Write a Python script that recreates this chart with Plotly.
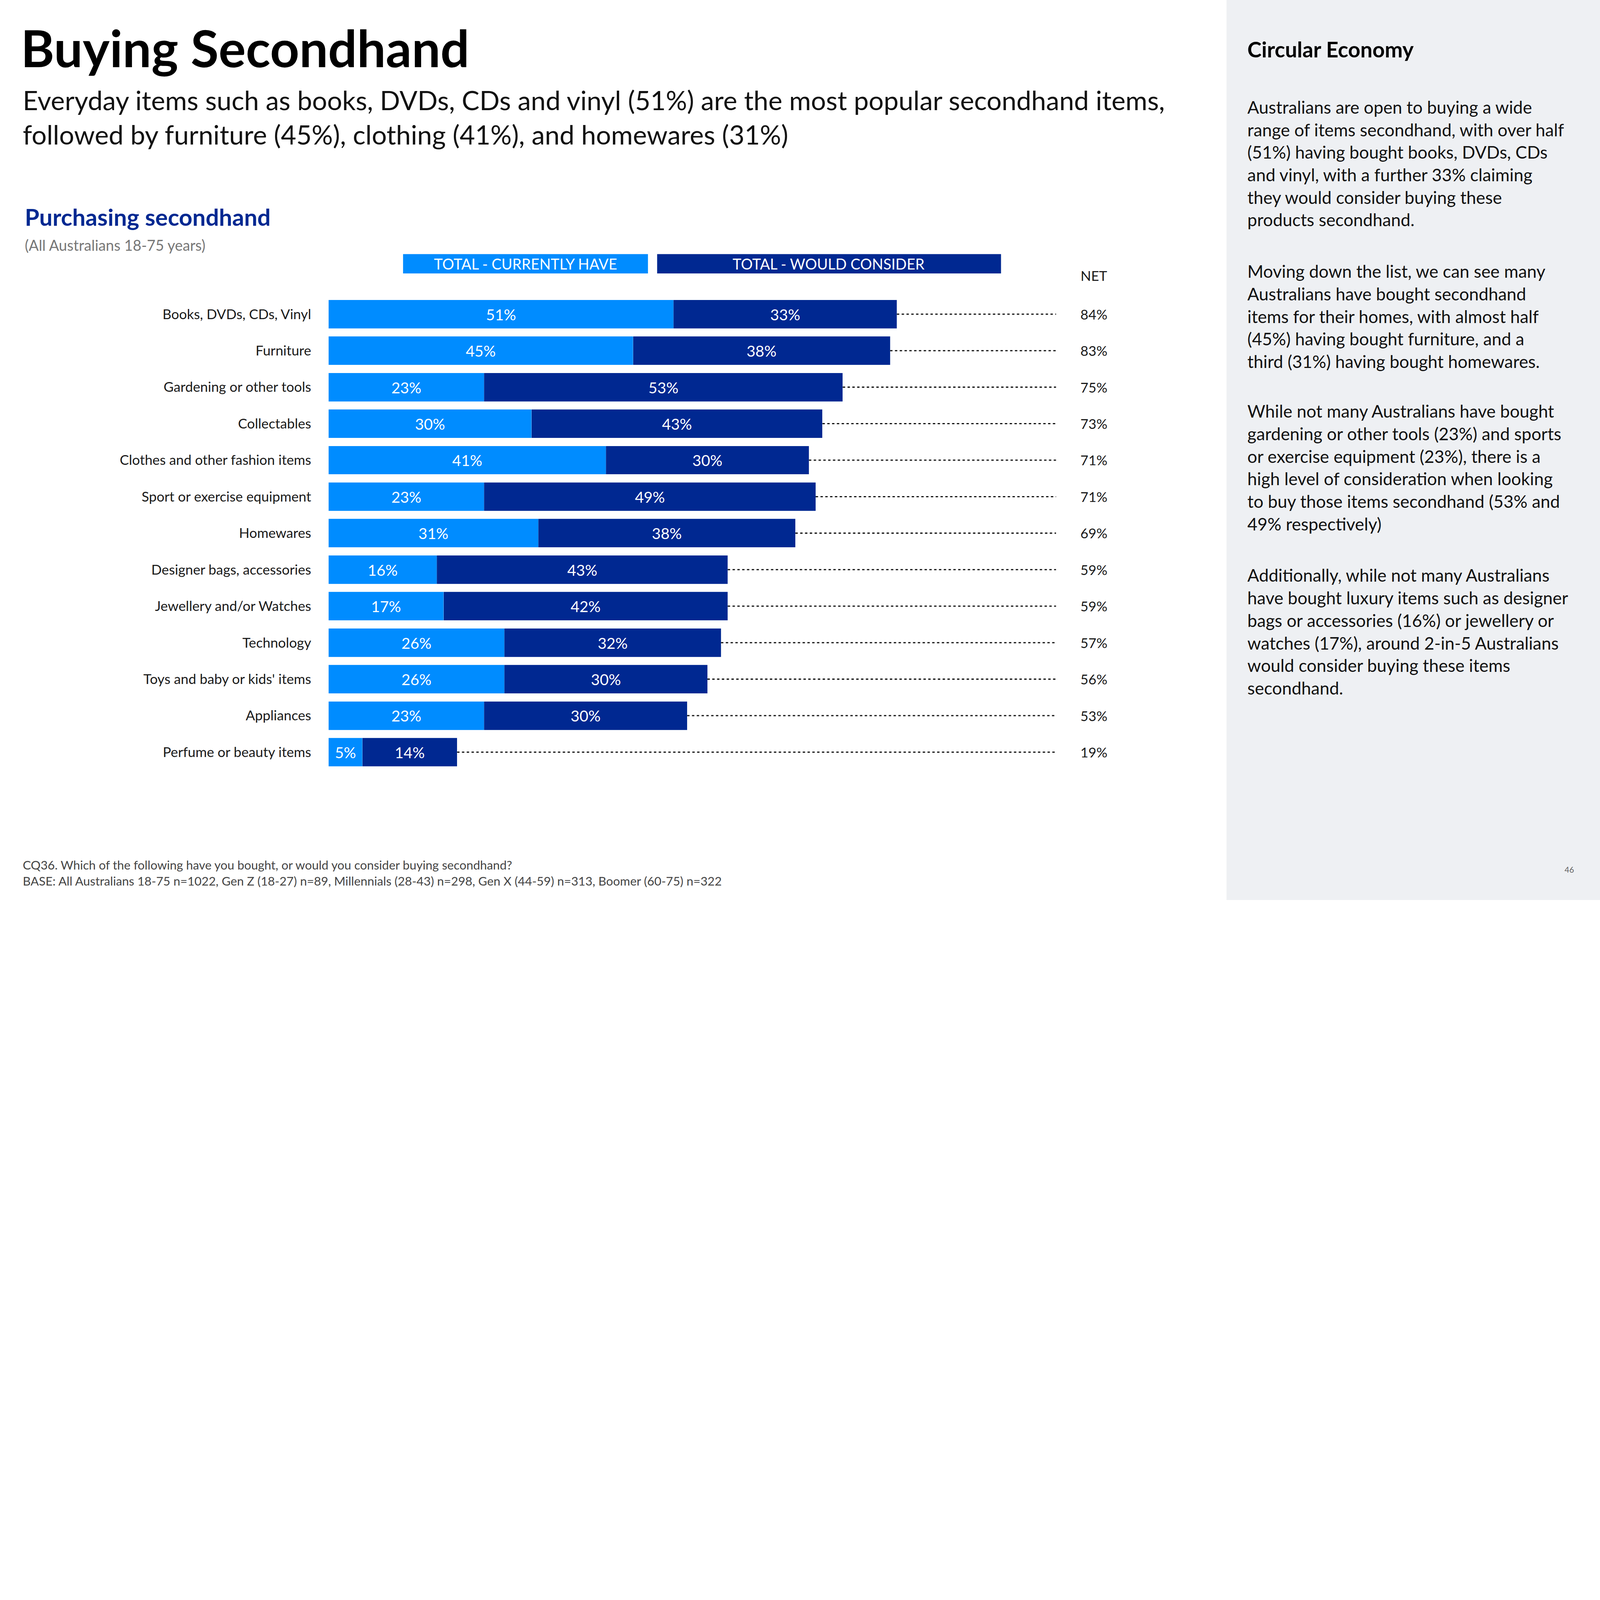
import plotly.graph_objects as go

categories = ["Books, DVDs, CDs, Vinyl", "Furniture", "Gardening or other tools", "Collectables",
              "Clothes and other fashion items", "Sport or exercise equipment", "Homewares",
              "Designer bags, accessories", "Jewellery and/or Watches", "Technology",
              "Toys and baby or kids' items", "Appliances", "Perfume or beauty items"]
currently_have = [51, 45, 23, 30, 41, 23, 31, 16, 17, 26, 26, 23, 5]
would_consider = [33, 38, 53, 43, 30, 49, 38, 43, 42, 32, 30, 30, 14]
net = [84, 83, 75, 73, 71, 71, 69, 59, 59, 57, 56, 53, 19]

W, H = 8000, 4500
S = W / 1568
LIGHT, DARK = "#008CFF", "#002891"
FONT = "Lato"


def px(x):
    return x / 1568


def py(y):
    return 1 - y / 882


XMAX = (1035 - 322) / 6.63

fig = go.Figure()
fig.add_trace(go.Bar(y=categories, x=currently_have, orientation="h", marker_color=LIGHT,
                     text=[f"{v}%" for v in currently_have], textposition="inside",
                     insidetextanchor="middle", textangle=0,
                     textfont=dict(color="white", size=15 * S, family=FONT),
                     name="TOTAL - CURRENTLY HAVE"))
fig.add_trace(go.Bar(y=categories, x=would_consider, orientation="h", marker_color=DARK,
                     text=[f"{v}%" for v in would_consider], textposition="inside",
                     insidetextanchor="middle", textangle=0,
                     textfont=dict(color="white", size=15 * S, family=FONT),
                     name="TOTAL - WOULD CONSIDER"))

shapes = [dict(type="rect", xref="paper", yref="paper", x0=px(1202), x1=1, y0=0, y1=1,
               fillcolor="#EEF0F3", line_width=0, layer="below"),
          dict(type="rect", xref="paper", yref="paper", x0=px(395), x1=px(635), y0=py(268), y1=py(249),
               fillcolor=LIGHT, line_width=0, layer="below"),
          dict(type="rect", xref="paper", yref="paper", x0=px(644), x1=px(981), y0=py(268), y1=py(249),
               fillcolor=DARK, line_width=0, layer="below")]
annotations = []
for c, h, w, n in zip(categories, currently_have, would_consider, net):
    shapes.append(dict(type="line", xref="x", yref="y", x0=h + w, x1=XMAX, y0=c, y1=c,
                       line=dict(color="#111111", width=6, dash="12px,12px")))
    annotations.append(dict(text=f"{n}%", x=px(1072), xref="paper", y=c, yref="y", showarrow=False,
                            xanchor="center", yanchor="middle",
                            font=dict(size=13.5 * S, color="#1a1a1a", family=FONT)))


def txt(t, x, y, size, color="#111111", bold=False, xanchor="left"):
    if bold:
        t = f"<b>{t}</b>"
    annotations.append(dict(text=t, x=px(x), y=py(y), xref="paper", yref="paper", showarrow=False,
                            xanchor=xanchor, yanchor="top", align="left",
                            font=dict(size=size * S, color=color, family=FONT)))


def ctext(t, x, y, size, color):
    annotations.append(dict(text=t, x=px(x), y=py(y), xref="paper", yref="paper", showarrow=False,
                            xanchor="center", yanchor="middle",
                            font=dict(size=size * S, color=color, family=FONT)))


txt("Buying Secondhand", 20, 16, 50, "#000000", bold=True)
txt("Everyday items such as books, DVDs, CDs and vinyl (51%) are the most popular secondhand items,<br>"
    "followed by furniture (45%), clothing (41%), and homewares (31%)", 22, 82, 26)
txt("Purchasing secondhand", 24, 198, 23, DARK, bold=True)
txt("(All Australians 18-75 years)", 24, 231, 14.5, "#777777")
ctext("TOTAL - CURRENTLY HAVE", 515, 258.5, 14.5, "white")
ctext("TOTAL - WOULD CONSIDER", 812, 258.5, 14.5, "white")
ctext("NET", 1072, 270, 13.5, "#1a1a1a")
txt("CQ36. Which of the following have you bought, or would you consider buying secondhand?<br>"
    "BASE: All Australians 18-75 n=1022, Gen Z (18-27) n=89, Millennials (28-43) n=298, Gen X (44-59) n=313, "
    "Boomer (60-75) n=322", 22, 840, 12, "#444444")
txt("Circular Economy", 1222, 35, 21, "#000000", bold=True)
paras = [
    (94, "Australians are open to buying a wide<br>range of items secondhand, with over half<br>"
         "(51%) having bought books, DVDs, CDs<br>and vinyl, with a further 33% claiming<br>"
         "they would consider buying these<br>products secondhand."),
    (255, "Moving down the list, we can see many<br>Australians have bought secondhand<br>"
          "items for their homes, with almost half<br>(45%) having bought furniture, and a<br>"
          "third (31%) having bought homewares."),
    (392, "While not many Australians have bought<br>gardening or other tools (23%) and sports<br>"
          "or exercise equipment (23%), there is a<br>high level of consideration when looking<br>"
          "to buy those items secondhand (53% and<br>49% respectively)"),
    (553, "Additionally, while not many Australians<br>have bought luxury items such as designer<br>"
          "bags or accessories (16%) or jewellery or<br>watches (17%), around 2-in-5 Australians<br>"
          "would consider buying these items<br>secondhand."),
]
for y, t in paras:
    txt(t, 1222, y, 17, "#111111")
txt("46", 1533, 847, 8, "#666666")

fig.update_layout(
    width=W, height=H, barmode="stack", bargap=0.22, showlegend=False,
    uniformtext=dict(minsize=13 * S, mode="show"),
    paper_bgcolor="white", plot_bgcolor="white", margin=dict(l=0, r=0, t=0, b=0),
    shapes=shapes, annotations=annotations, font=dict(family=FONT),
    xaxis=dict(domain=[px(322), px(1035)], range=[0, XMAX], visible=False, fixedrange=True),
    yaxis=dict(domain=[py(755), py(290)], autorange="reversed", showgrid=False, showline=False,
               ticks="", ticklabelstandoff=int(17 * S),
               tickfont=dict(size=13.5 * S, color="#1a1a1a", family=FONT)),
)

# fit the fixed-size figure into whatever window the page is opened in
fit_js = """
var gd = document.getElementById('{plot_id}');
var k = Math.min(1, window.innerWidth / %d, window.innerHeight / %d);
document.body.style.margin = '0';
gd.style.transformOrigin = '0 0';
gd.style.transform = 'scale(' + k + ')';
""" % (W, H)
fig.write_html("out.html", post_script=fit_js, config={"displayModeBar": False})
